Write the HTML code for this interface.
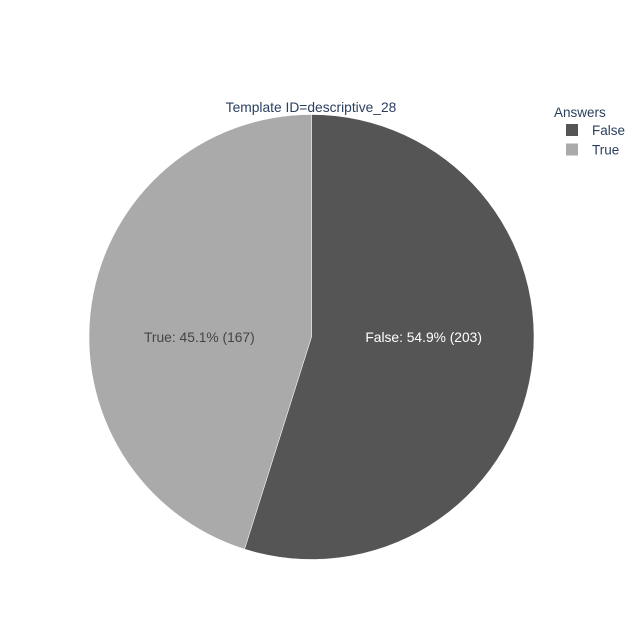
<!DOCTYPE html>
<html><head><meta charset="utf-8"><style>
body{margin:0;background:#fff}
svg{display:block;font-family:"Liberation Sans",sans-serif}
</style></head><body>
<svg id="chart" width="640" height="640">
<rect width="640" height="640" fill="#fff"/>
<text x="311" y="112" text-anchor="middle" font-size="13.8" fill="#2a3f5f">Template ID=descriptive_28</text>
<g id="slices"></g>
<g id="legend">
<text x="554" y="117" font-size="13.5" fill="#2a3f5f">Answers</text>
</g>
</svg>
<script>
const categories=["False","True"];
const values=[203,167];
const colors=["#555555","#aaaaaa"];
const textColors=["#ffffff","#444444"];
const cx=311.5,cy=337,r=222.5;
const total=values.reduce((a,b)=>a+b,0);
const g=document.getElementById('slices');
const lg=document.getElementById('legend');
const NS="http://www.w3.org/2000/svg";
let a0=0;
values.forEach((v,i)=>{
  const frac=v/total,a1=a0+frac*2*Math.PI;
  const p=a=>[cx+r*Math.sin(a),cy-r*Math.cos(a)];
  const [x0,y0]=p(a0),[x1,y1]=p(a1);
  const path=document.createElementNS(NS,'path');
  path.setAttribute('d',`M${cx},${cy}L${x0},${y0}A${r},${r} 0 ${frac>0.5?1:0} 1 ${x1},${y1}Z`);
  path.setAttribute('fill',colors[i]);
  path.setAttribute('stroke','#fff');
  path.setAttribute('stroke-width','0.5');
  
  
  g.appendChild(path);
  const am=(a0+a1)/2;
  const t=document.createElementNS(NS,'text');
  t.setAttribute('x',cx+r*0.51*Math.sin(am));
  t.setAttribute('y',cy+5);
  t.setAttribute('text-anchor','middle');
  t.setAttribute('font-size','13.8');
  t.setAttribute('fill',textColors[i]);
  t.textContent=`${categories[i]}: ${(frac*100).toFixed(1)}% (${v})`;
  
  
  g.appendChild(t);
  const sw=document.createElementNS(NS,'rect');
  sw.setAttribute('x',566);sw.setAttribute('y',124+i*19.5);
  sw.setAttribute('width',12);sw.setAttribute('height',12);
  sw.setAttribute('fill',colors[i]);
  
  
  lg.appendChild(sw);
  const lt=document.createElementNS(NS,'text');
  lt.setAttribute('x',592);lt.setAttribute('y',135+i*19.5);
  lt.setAttribute('font-size','13.5');lt.setAttribute('fill','#2a3f5f');
  lt.textContent=categories[i];
  
  
  lg.appendChild(lt);
  a0=a1;
});
</script>
</body></html>
